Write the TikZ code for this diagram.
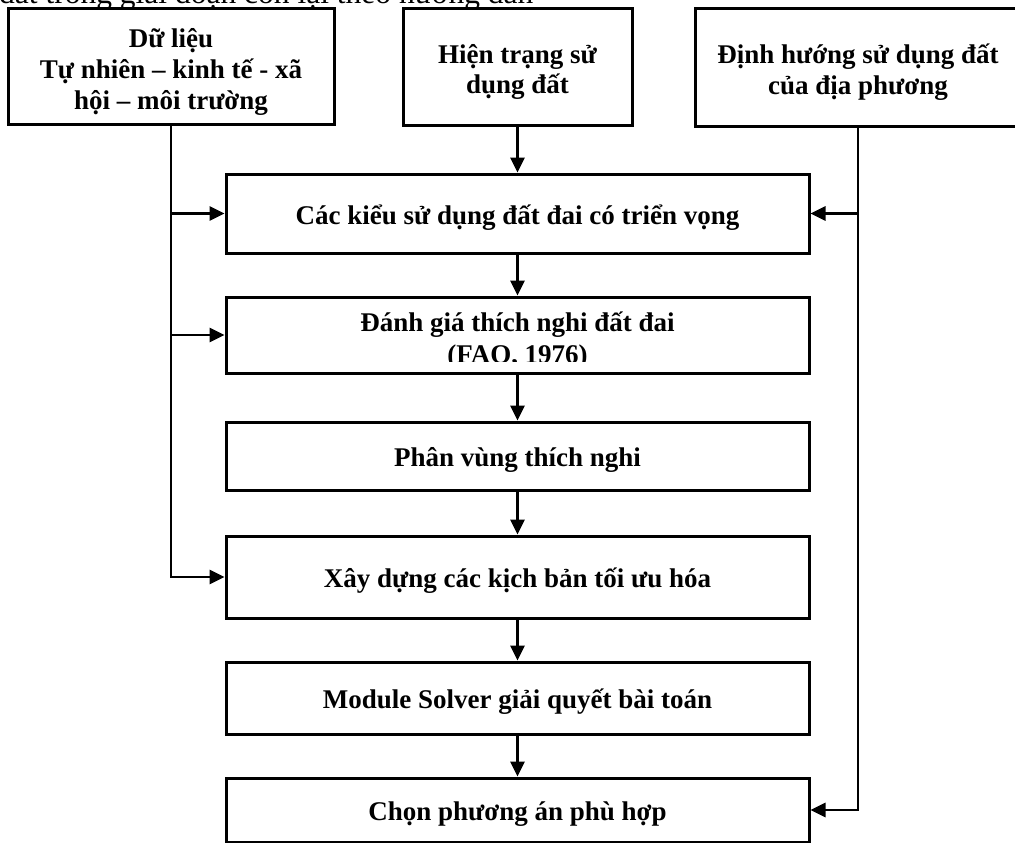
\documentclass[tikz,border=0pt]{standalone}
\usepackage{fontspec}
\setmainfont{Liberation Serif}
\usetikzlibrary{arrows.meta,calc}
\newcommand\mytopstrut[1]{\rule{0pt}{#1}}
\newcommand\mybotstrut{\rule[-7pt]{0pt}{7pt}}
\begin{document}
\begin{tikzpicture}[x=1pt,y=-1pt,
  box/.style={draw=black,line width=3pt,rectangle,inner sep=0pt,align=center,
    font=\fontsize{27}{31}\selectfont\bfseries},
  onebox/.style={box,text height=23pt,text depth=2pt},
  conn/.style={line width=2.7pt,-{Triangle[length=15pt,width=14pt]}}]
\useasboundingbox (0,0) rectangle (1015,843);
% top clipped text
\node[anchor=base west,inner sep=0pt,font=\fontsize{31.5}{34}\selectfont] (toptext) at (-1,4) {đất trong giai đoạn còn lại theo hướng dẫn};
% top boxes
\node[box,minimum width=326pt,minimum height=115pt] (A) at (171,66.5) {\mytopstrut{31pt}Dữ liệu\\Tự nhiên – kinh tế - xã\\hội – môi trường\mybotstrut};
\node[box,minimum width=229pt,minimum height=116pt] (B) at (517.5,67) {\mytopstrut{30pt}Hiện trạng sử\\dụng đất\mybotstrut};
\node[box,minimum width=326pt,minimum height=117pt] (C) at (858,67.5) {\mytopstrut{31pt}Định hướng sử dụng đất\\của địa phương\mybotstrut};
% main column
\node[onebox,minimum width=583pt,minimum height=79pt] (D) at (517.5,213.5) {Các kiểu sử dụng đất đai có triển vọng};
\node[box,minimum width=583pt,minimum height=76pt] (E) at (517.5,335) {};
\begin{scope}
  \clip (228,299) rectangle (807,361);
  \node[inner sep=0pt,anchor=base,align=center,font=\fontsize{27}{32}\selectfont\bfseries] (Et) at (517.5,363) {Đánh giá thích nghi đất đai\\(FAO, 1976)};
\end{scope}
\node[onebox,minimum width=583pt,minimum height=68pt] (F) at (517.5,456) {Phân vùng thích nghi};
\node[onebox,minimum width=583pt,minimum height=82pt] (G) at (517.5,577) {Xây dựng các kịch bản tối ưu hóa};
\node[onebox,minimum width=583pt,minimum height=72pt] (H) at (517.5,698) {Module Solver giải quyết bài toán};
\node[onebox,minimum width=583pt,minimum height=64pt] (I) at (517.5,810) {Chọn phương án phù hợp};
% vertical flow
\draw[conn] (B.south) -- (D.north);
\draw[conn] (D.south) -- (E.north);
\draw[conn] (E.south) -- (F.north);
\draw[conn] (F.south) -- (G.north);
\draw[conn] (G.south) -- (H.north);
\draw[conn] (H.south) -- (I.north);
% left feed
\draw[conn] (A.south) |- (G.west);
\draw[conn] (A.south |- D.west) -- (D.west);
\draw[conn] (A.south |- E.west) -- (E.west);
% right feed
\draw[conn] (C.south) |- (I.east);
\draw[conn] (C.south |- D.east) -- (D.east);
\end{tikzpicture}
\end{document}
